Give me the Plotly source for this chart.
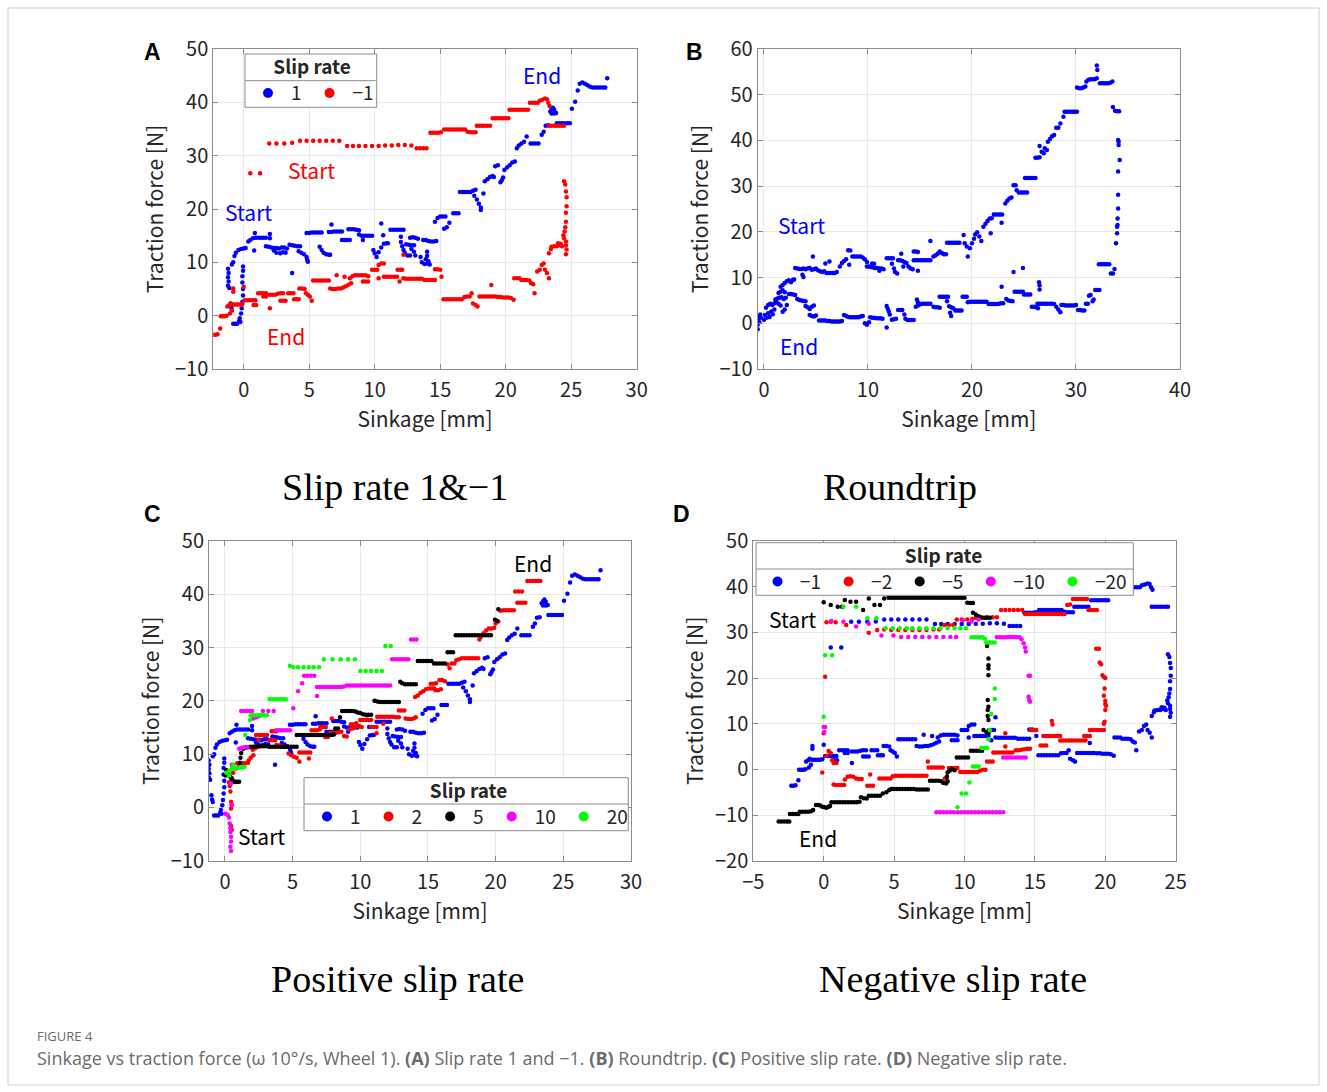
import plotly.graph_objects as go

W, H = 1327, 1092

# ---------------- data (sinkage [mm], traction force [N]) ----------------
slip_1 = [
    (-1.2, 8.8), (-1.15, 8.0), (-1.2, 7.2), (-1.15, 6.4), (-1.2, 5.6), (-1.1, 5.2),
    (-0.9, 9.6), (-0.8, 10.0), (-0.7, 11.2), (-0.6, 11.8), (-0.4, 12.3), (-0.2, 12.5), (0.0, 12.6), (0.15, 12.7),
    (-1.0, 2.3), (-0.95, 1.5), (-0.9, 1.0),
    (-0.8, -1.5), (-0.65, -1.5), (-0.5, -1.5), (-0.35, -1.0), (-0.3, -0.5),
    (-0.05, 9.2), (-0.05, 8.4), (-0.1, 7.4), (-0.1, 6.2), (-0.05, 5.0), (-0.05, 3.8), (-0.1, 2.6), (-0.15, 1.4), (-0.2, 0.4), (-0.25, -1.2),
    (0.35, 13.9), (0.5, 14.2), (0.7, 14.5), (0.9, 14.6), (1.1, 14.6), (1.3, 14.6), (1.5, 14.6), (1.7, 14.6), (0.85, 15.5), (0.8, 12.2),
    (2.0, 15.3), (2.0, 14.5),
    (1.7, 13.0), (1.9, 12.9), (2.1, 12.8), (2.3, 12.7), (2.5, 12.7), (2.7, 12.6),
    (2.3, 12.2), (2.5, 11.8), (2.8, 11.7), (3.0, 11.9), (3.2, 11.8),
    (2.9, 12.8), (3.1, 12.8), (3.3, 12.6),
    (3.5, 13.3), (3.7, 13.2), (3.9, 13.1), (4.1, 13.0), (4.3, 13.0),
    (3.7, 8.0),
    (4.2, 12.1), (4.4, 11.8), (4.6, 11.5), (4.8, 11.0), (4.85, 10.5), (4.9, 10.1),
    (4.8, 15.5), (5.0, 15.5), (5.2, 15.6), (5.4, 15.6), (5.6, 15.6), (5.8, 15.6), (5.95, 15.6),
    (5.8, 12.9), (5.95, 12.3), (6.1, 11.8), (6.3, 11.5), (6.5, 11.4), (6.6, 11.4),
    (6.7, 17.1),
    (6.5, 15.7), (6.7, 15.7), (6.9, 15.8), (7.1, 15.8), (7.3, 15.8), (7.5, 15.8),
    (7.5, 14.2), (7.7, 14.2), (7.9, 14.2), (8.1, 14.2),
    (8.0, 16.2), (8.2, 16.2), (8.4, 16.2), (8.6, 16.1), (8.8, 16.0),
    (8.8, 15.2), (9.0, 15.0), (9.2, 15.0), (9.4, 15.0), (9.6, 15.0), (9.8, 15.0),
    (9.1, 14.2),
    (9.9, 12.3), (10.0, 11.7),
    (10.15, 11.0), (10.3, 11.9), (10.5, 12.8), (10.7, 13.5), (10.9, 13.6), (11.0, 13.6),
    (10.5, 17.3), (10.65, 15.1),
    (11.2, 16.1), (11.4, 16.1), (11.6, 16.1), (11.8, 16.1), (12.0, 16.1), (12.2, 16.1),
    (12.0, 14.8), (12.0, 13.8), (12.1, 13.0), (12.2, 12.3), (12.3, 11.8), (12.5, 11.3), (12.7, 11.3),
    (12.4, 13.4), (12.6, 13.3), (12.8, 13.2), (13.0, 13.2),
    (12.7, 14.6), (12.9, 14.7), (13.1, 14.6), (13.3, 14.4),
    (12.8, 12.5), (13.0, 12.0), (13.1, 11.3),
    (13.5, 11.0), (13.6, 10.0), (13.8, 9.7), (14.0, 9.8), (14.1, 10.2), (14.2, 9.6),
    (13.7, 14.2), (13.9, 14.2), (14.1, 14.0), (14.3, 13.9), (14.5, 13.9), (14.7, 14.0),
    (14.0, 12.0), (14.0, 11.2), (13.9, 10.6),
    (14.6, 17.6), (14.8, 18.3), (15.0, 18.6), (15.2, 18.6), (15.4, 18.6),
    (15.3, 16.3), (15.5, 16.6), (15.7, 17.4),
    (16.0, 19.2), (16.2, 19.2), (16.4, 19.2),
    (16.5, 23.2), (16.7, 23.2), (16.9, 23.2), (17.1, 23.2), (17.3, 23.2), (17.5, 23.4), (17.7, 23.6),
    (17.6, 22.5), (17.8, 21.8), (17.95, 21.0), (18.1, 20.3), (18.1, 19.8), (18.3, 22.9),
    (18.4, 25.2), (18.6, 25.6), (18.8, 26.0), (19.0, 26.2), (19.1, 26.0),
    (19.2, 28.0), (19.4, 28.2),
    (19.6, 25.0), (19.7, 25.4), (19.8, 25.9),
    (19.9, 27.3), (20.1, 27.8), (20.3, 28.2), (20.5, 28.7), (20.7, 28.9),
    (20.85, 31.4), (21.0, 31.9), (21.2, 32.3), (21.4, 32.6), (21.6, 33.6),
    (21.9, 32.3), (22.1, 32.3), (22.3, 32.3), (22.5, 32.3),
    (22.75, 33.9), (22.9, 34.5), (23.05, 35.6), (23.25, 35.7), (23.4, 38.3), (23.5, 38.7), (23.6, 39.0),
    (23.7, 38.6), (23.85, 38.0), (23.5, 37.9), (23.7, 37.9),
    (23.9, 36.1), (24.1, 36.1), (24.3, 36.1), (24.5, 36.1), (24.7, 36.1), (24.9, 36.1),
    (25.05, 38.8), (25.3, 40.1), (25.5, 42.2), (25.65, 43.5), (25.85, 43.7), (26.05, 43.5), (26.25, 43.2),
    (26.45, 42.9), (26.65, 42.8), (26.85, 42.8), (27.05, 42.8), (27.25, 42.8), (27.45, 42.8), (27.6, 42.8), (27.75, 44.5),
]

slip_m1 = [
    (-2.3, -3.6), (-2.15, -3.6), (-2.0, -3.5), (-1.8, -2.4),
    (-1.75, -0.1), (-1.6, -0.1), (-1.45, -0.1), (-1.3, 0.0),
    (-1.25, 1.7), (-1.1, 2.0), (-1.0, 2.3), (-1.05, 0.4), (-0.9, 1.0),
    (-0.8, 5.1), (-0.8, 4.5),
    (-0.85, 2.1), (-0.7, 2.1), (-0.55, 2.1), (-0.4, 2.1), (-0.25, 2.1), (-0.1, 2.2),
    (0.0, 5.4),
    (0.1, 2.9), (0.3, 2.9), (0.5, 2.9), (0.7, 2.9), (0.9, 2.9),
    (0.75, 2.0), (0.95, 2.0),
    (1.1, 4.2), (1.3, 4.2), (1.5, 4.2), (1.7, 4.2),
    (1.5, 3.6), (1.7, 3.6),
    (2.0, 1.4),
    (2.0, 3.9), (2.2, 3.9), (2.4, 3.9), (2.6, 4.1), (2.8, 4.2), (3.0, 4.2),
    (2.8, 2.8), (3.0, 2.8), (3.2, 2.8),
    (3.4, 4.2), (3.6, 4.2), (3.8, 4.2),
    (3.85, 3.1), (4.05, 3.1), (4.2, 3.1),
    (4.25, 5.1), (4.45, 5.1), (4.65, 5.0),
    (4.75, 4.2), (4.9, 3.9), (5.05, 3.6), (5.2, 2.8),
    (5.3, 6.6), (5.5, 6.6), (5.7, 6.6), (5.9, 6.6), (6.1, 6.6), (6.3, 6.6), (6.5, 6.6),
    (6.6, 5.1), (6.8, 5.0), (7.0, 5.0),
    (7.1, 7.6),
    (7.2, 5.1), (7.4, 5.1), (7.6, 5.3), (7.8, 5.5), (8.0, 5.8), (8.2, 6.1),
    (7.7, 7.3),
    (8.1, 7.0), (8.3, 7.4), (8.5, 7.6), (8.7, 7.6), (8.9, 7.6), (9.1, 7.6), (9.3, 7.6), (9.5, 7.4),
    (9.1, 6.4), (9.3, 6.4), (9.5, 6.4),
    (9.8, 8.6), (10.0, 8.6), (10.2, 8.6),
    (10.3, 9.5), (10.5, 9.8), (10.7, 9.8),
    (10.3, 7.0),
    (10.7, 7.3), (10.9, 7.3), (11.1, 7.3), (11.3, 7.3), (11.5, 7.3), (11.7, 7.3),
    (11.75, 8.6), (11.95, 8.6), (12.1, 8.6),
    (11.9, 6.4),
    (12.2, 11.4),
    (12.2, 7.0), (12.4, 6.9), (12.6, 6.9), (12.8, 6.9), (13.0, 6.9), (13.2, 6.9), (13.4, 6.9), (13.6, 6.9),
    (13.8, 6.7), (14.0, 6.7), (14.2, 6.7), (14.4, 6.7), (14.6, 6.7),
    (14.6, 8.7), (14.8, 8.7), (15.0, 8.6), (15.1, 7.3),
    (15.25, 3.1), (15.45, 3.1), (15.65, 3.1), (15.85, 3.1), (16.05, 3.1), (16.25, 3.1), (16.45, 3.1), (16.65, 3.1),
    (16.85, 3.5), (17.05, 3.6), (17.25, 3.6), (17.4, 4.2),
    (17.5, 2.3), (17.7, 2.0), (17.85, 1.7),
    (18.0, 3.6), (18.2, 3.6), (18.4, 3.6), (18.6, 3.6), (18.8, 3.6), (19.0, 3.6), (19.2, 3.6),
    (18.9, 5.75),
    (19.4, 3.5), (19.6, 3.5), (19.8, 3.4), (20.0, 3.4), (20.2, 3.4), (20.4, 3.3), (20.6, 3.0),
    (20.65, 7.0), (20.85, 7.0), (21.05, 7.0),
    (21.2, 6.7), (21.4, 6.7), (21.6, 6.7), (21.8, 6.6),
    (21.95, 6.1), (22.1, 5.9),
    (22.2, 4.2),
    (22.4, 8.3), (22.6, 8.6), (22.75, 9.5), (22.9, 9.8),
    (23.0, 8.6), (23.15, 8.0), (23.3, 7.0),
    (23.3, 11.7), (23.45, 12.5), (23.5, 12.9), (23.7, 13.0), (23.9, 13.0), (24.1, 13.2), (24.3, 13.0),
    (24.0, 13.6), (24.2, 13.5),
    (24.4, 15.1), (24.45, 14.5),
    (24.45, 25.2), (24.55, 24.6), (24.6, 23.3), (24.65, 22.2), (24.65, 20.5), (24.6, 19.3), (24.6, 17.6),
    (24.55, 16.6), (24.5, 15.8), (24.6, 13.9), (24.6, 13.2), (24.65, 12.4), (24.6, 11.5),
    (0.5, 26.7), (1.25, 26.7),
    (1.95, 32.3), (2.5, 32.3), (3.1, 32.3), (3.7, 32.4),
    (4.3, 32.8), (4.8, 32.8), (5.3, 32.8), (5.8, 32.8), (6.3, 32.8), (6.8, 32.8), (7.3, 32.8),
    (7.9, 31.8), (8.35, 31.8), (8.8, 31.8), (9.3, 31.8), (9.8, 31.8), (10.3, 31.8), (10.8, 31.9),
    (11.3, 31.9), (11.8, 32.0), (12.3, 32.0), (12.8, 31.9),
    (13.2, 31.4), (13.45, 31.4), (13.7, 31.4), (13.95, 31.4),
    (14.25, 34.3), (14.45, 34.3), (14.65, 34.3), (14.85, 34.3), (15.05, 34.4),
    (15.3, 34.9), (15.5, 34.9), (15.7, 34.9), (15.9, 34.9), (16.1, 34.9), (16.3, 34.9), (16.5, 34.9), (16.7, 34.9), (16.9, 34.9),
    (17.1, 34.5), (17.3, 34.4), (17.5, 34.4), (17.7, 34.4),
    (17.8, 35.6), (18.0, 35.6), (18.2, 35.6), (18.4, 35.6), (18.6, 35.6), (18.8, 35.6),
    (19.0, 37.0), (19.2, 37.0), (19.4, 37.0), (19.6, 37.0), (19.8, 37.0), (20.0, 37.0), (20.2, 37.0),
    (20.3, 38.6), (20.5, 38.6), (20.7, 38.6), (20.9, 38.6), (21.1, 38.6), (21.3, 38.6), (21.5, 38.6), (21.7, 38.6),
    (21.85, 39.9), (22.05, 39.9), (22.25, 39.9), (22.45, 39.9),
    (22.6, 40.3), (22.8, 40.5), (23.0, 40.7), (23.15, 40.6), (23.25, 39.9), (23.35, 39.3),
    (23.3, 35.6), (23.5, 35.6), (23.7, 35.6), (23.9, 35.6), (24.1, 35.6), (24.3, 35.6), (24.45, 35.6),
]

roundtrip = [
    (-0.6, -1.3), (-0.6, -0.3), (-0.55, 0.6), (-0.5, 1.5), (-0.45, 0.2), (-0.35, 1.9), (-0.3, 1.2),
    (0.0, 0.8), (0.1, 1.8), (0.25, 1.2), (0.4, 2.2), (0.55, 1.4), (0.7, 2.6), (0.85, 2.0), (1.0, 3.0),
    (0.2, 3.4), (0.4, 4.0), (0.6, 4.3), (0.8, 4.0), (1.0, 4.4), (1.2, 4.6), (1.4, 4.3), (1.6, 3.9),
    (1.1, 5.2), (1.3, 5.4), (1.5, 5.6), (1.7, 5.7), (1.9, 5.3), (2.1, 5.6),
    (1.4, 6.6), (1.6, 6.9), (1.8, 7.2), (2.0, 6.8),
    (1.6, 8.0), (1.8, 8.4), (2.0, 8.8), (2.2, 9.2), (2.4, 9.4), (2.6, 9.0), (2.8, 9.5),
    (1.8, 2.5), (2.0, 3.0), (2.2, 4.0),
    (2.4, 6.4), (2.6, 6.4), (2.8, 6.3), (3.0, 6.2),
    (3.2, 5.3), (3.4, 5.1), (3.6, 5.0), (3.8, 4.9), (4.0, 4.8),
    (4.0, 3.8), (4.2, 3.5), (4.4, 3.1), (4.6, 3.6), (4.8, 3.9),
    (4.4, 1.8), (4.6, 1.6), (4.8, 1.5), (5.0, 1.7),
    (5.3, 0.6), (5.5, 0.6), (5.7, 0.6), (5.9, 0.6), (6.1, 0.5), (6.3, 0.5), (6.5, 0.4), (6.7, 0.4),
    (6.9, 0.4), (7.1, 0.4), (7.3, 0.4), (7.5, 0.5),
    (7.7, 1.8), (7.9, 1.6), (8.1, 1.4), (8.3, 1.3), (8.5, 1.3), (8.7, 1.3), (8.9, 1.3), (9.1, 1.3), (9.3, 1.5), (9.5, 1.6),
    (9.7, 0.0), (9.9, -0.3), (10.1, 0.2),
    (10.2, 1.3), (10.4, 1.2), (10.6, 1.2), (10.8, 1.1), (11.0, 1.1), (11.2, 1.1), (11.4, 1.0),
    (11.8, -0.9), (11.8, 3.8), (11.9, 3.2), (12.0, 2.6), (12.1, 1.9),
    (12.3, 0.8), (12.5, 0.9), (12.7, 1.0), (12.9, 2.9), (13.1, 2.9), (13.3, 2.9),
    (13.5, 1.9), (13.6, 1.0),
    (13.8, 0.7), (14.0, 0.7), (14.2, 0.7), (14.4, 0.7),
    (14.7, 5.2), (14.8, 4.6),
    (14.6, 3.6), (14.8, 3.9), (15.0, 4.1), (15.2, 4.3), (15.4, 4.3), (15.6, 4.3), (15.8, 4.3), (16.0, 4.3),
    (16.3, 3.6), (16.5, 3.5), (16.7, 3.5), (16.9, 3.4),
    (16.9, 5.8), (17.1, 5.8), (17.3, 5.8), (17.5, 5.8), (17.7, 5.8),
    (17.6, 4.8), (17.8, 3.7), (17.9, 2.3), (18.0, 1.6),
    (18.0, 3.5), (18.2, 3.3),
    (18.4, 2.8), (18.6, 2.8), (18.8, 2.8), (19.0, 2.8),
    (19.1, 5.8), (19.3, 5.8), (19.5, 5.8),
    (19.6, 4.6), (19.8, 4.7), (20.0, 4.7), (20.2, 4.7), (20.4, 4.7), (20.6, 4.7), (20.8, 4.7), (21.0, 4.7), (21.2, 4.7), (21.4, 4.7),
    (21.6, 4.2), (21.8, 4.2), (22.0, 4.2), (22.2, 4.2), (22.4, 4.2), (22.6, 4.3), (22.8, 4.4), (23.0, 4.4),
    (22.85, 8.0),
    (23.3, 5.3), (23.5, 5.0), (23.7, 4.9), (23.9, 4.8),
    (24.0, 11.2), (24.9, 12.1),
    (24.1, 6.9), (24.3, 6.9), (24.5, 6.9), (24.7, 6.9), (24.9, 6.9),
    (25.0, 6.3), (25.2, 6.3), (25.4, 6.3), (25.6, 6.3),
    (25.75, 3.6), (25.95, 3.6), (26.15, 3.5), (26.35, 3.3),
    (26.45, 9.0), (26.5, 8.3), (26.5, 7.4),
    (26.3, 4.3), (26.5, 4.3), (26.7, 4.3), (26.9, 4.3), (27.1, 4.3), (27.3, 4.3), (27.5, 4.3), (27.7, 4.3), (27.9, 4.2),
    (28.1, 3.6), (28.3, 3.0), (28.5, 2.4),
    (28.6, 4.0), (28.8, 4.0), (29.0, 3.9), (29.2, 3.9), (29.4, 3.9), (29.6, 3.9), (29.8, 3.9), (30.0, 4.0),
    (30.2, 2.9), (30.4, 2.9), (30.6, 2.8), (30.8, 2.8),
    (30.95, 4.3), (31.15, 4.3),
    (31.25, 6.0), (31.4, 6.2), (31.6, 4.8), (31.7, 5.2),
    (31.85, 7.3), (32.05, 7.3), (32.25, 7.3),
    (2.9, 9.6), (3.0, 12.1), (3.2, 12.0), (3.4, 11.9), (3.6, 11.9), (3.8, 12.0), (3.7, 10.6), (3.8, 10.1),
    (4.0, 11.8), (4.2, 12.0), (4.4, 12.1), (4.7, 14.6), (4.6, 11.7), (4.8, 11.8), (5.0, 12.0), (5.2, 11.6),
    (5.4, 11.4), (5.6, 11.2), (5.9, 13.1), (5.8, 11.4), (6.0, 11.0), (6.2, 11.0), (6.4, 11.0), (6.6, 11.0),
    (6.8, 11.0), (7.0, 11.2), (6.3, 13.5),
    (7.3, 12.4), (7.5, 13.2), (7.7, 13.6), (7.9, 14.0), (8.1, 16.0), (8.3, 15.9), (8.2, 12.8),
    (8.5, 14.6), (8.7, 14.6), (8.9, 14.6), (9.1, 14.6), (9.3, 14.6), (9.5, 14.4), (9.7, 14.0), (9.9, 13.4),
    (9.9, 12.4), (10.1, 12.4), (10.3, 12.3), (10.5, 12.2), (10.7, 12.1), (10.9, 12.1), (11.1, 12.0), (11.3, 12.0), (11.5, 11.8),
    (10.4, 13.1), (10.6, 13.0), (11.1, 11.5),
    (11.8, 14.2), (12.0, 14.2), (12.2, 14.2), (12.4, 14.2),
    (12.3, 13.0), (12.5, 12.0), (12.6, 11.2), (12.8, 10.9),
    (12.9, 13.8), (13.1, 13.8), (13.3, 13.6), (13.5, 13.4), (13.7, 13.2), (13.9, 12.4), (14.1, 12.0), (14.3, 11.8),
    (13.4, 12.4), (13.2, 15.2),
    (14.4, 15.7), (14.6, 15.7), (14.8, 15.6), (14.8, 11.5),
    (14.4, 13.8), (14.6, 13.8), (14.8, 13.8), (15.0, 13.8), (15.2, 13.8), (15.4, 13.8), (15.6, 13.8), (15.8, 13.8), (16.0, 13.8),
    (16.0, 18.0),
    (16.3, 14.6), (16.5, 14.9), (16.7, 15.2), (16.9, 15.7), (17.1, 15.4), (17.3, 15.1), (17.5, 15.1),
    (17.6, 17.6), (17.8, 17.6), (18.0, 17.6), (18.2, 17.6), (18.4, 17.6), (18.6, 17.6), (18.8, 17.6),
    (19.2, 19.3), (19.3, 17.5), (19.5, 16.8), (19.6, 14.6), (19.8, 16.4),
    (20.0, 17.5), (20.2, 18.5), (20.3, 19.4), (20.5, 19.9), (20.7, 19.0), (20.9, 18.0),
    (21.1, 21.1), (21.3, 21.8), (21.5, 22.4), (21.7, 22.9), (21.9, 23.0),
    (21.8, 19.7),
    (22.1, 23.8), (22.3, 23.8), (22.5, 23.8), (22.7, 23.8), (22.9, 23.8),
    (22.85, 22.0),
    (23.2, 26.2), (23.4, 26.8), (23.6, 27.3), (23.8, 27.5),
    (24.0, 30.2), (24.2, 30.2), (24.3, 29.1),
    (24.5, 28.6), (24.7, 28.6), (24.9, 28.6), (25.1, 28.6), (25.3, 28.6),
    (25.1, 31.8), (25.3, 31.8), (25.5, 31.8), (25.7, 31.8), (25.9, 31.8), (26.1, 31.8),
    (26.1, 36.2), (26.3, 36.2), (26.5, 36.3), (26.5, 38.8),
    (26.7, 37.5), (26.9, 37.2), (27.0, 38.3), (27.2, 37.9),
    (27.3, 39.7), (27.5, 40.3), (27.7, 40.9), (27.9, 41.2),
    (28.1, 42.8), (28.3, 42.8), (28.5, 43.7), (28.8, 45.2),
    (28.9, 46.3), (29.1, 46.3), (29.3, 46.3), (29.5, 46.3), (29.7, 46.3), (29.9, 46.3), (30.1, 46.3),
    (30.1, 51.6), (30.3, 51.4), (30.5, 51.4), (30.7, 51.6), (30.9, 51.8),
    (31.0, 52.9), (31.2, 53.3), (31.4, 53.4), (31.6, 53.4), (31.8, 53.4), (32.0, 53.6),
    (32.0, 56.4), (32.05, 55.4),
    (32.3, 52.5), (32.5, 52.5), (32.7, 52.5), (32.9, 52.5), (33.1, 52.5), (33.3, 52.6), (33.5, 52.9),
    (33.55, 47.3), (33.75, 46.5), (33.95, 46.4), (34.15, 46.4),
    (34.05, 40.1), (34.1, 39.7), (34.1, 39.0), (34.2, 35.7), (34.05, 33.2), (34.05, 28.1), (34.05, 25.1),
    (34.0, 22.9), (34.0, 21.5), (33.95, 21.1), (33.95, 19.7), (33.85, 17.5),
    (32.2, 12.9), (32.4, 12.9), (32.6, 12.9), (32.8, 12.9), (33.0, 12.9), (33.2, 12.9),
    (33.35, 10.9), (33.55, 10.9), (33.7, 11.9),
]

slip_2 = [
    (0.3, 4.7), (0.35, 4.0), (0.4, 3.0), (0.45, 1.0), (0.5, 0.4), (0.45, -0.2), (0.45, -3.5), (0.5, -4.2),
    (0.5, 5.5), (0.6, 6.5), (0.8, 7.3), (1.0, 7.6),
    (0.9, 8.3), (1.1, 8.3), (1.3, 8.3), (1.5, 8.3), (1.7, 8.4),
    (1.75, 8.8), (1.9, 9.3), (2.1, 9.8),
    (2.05, 10.8), (2.25, 11.1), (2.45, 11.4), (2.5, 12.6),
    (2.3, 13.6), (2.5, 13.6), (2.7, 13.6), (2.9, 13.6), (3.1, 13.6),
    (3.3, 12.6), (3.5, 12.6), (3.7, 12.6),
    (3.45, 14.3), (3.65, 14.3), (3.8, 14.3),
    (3.8, 11.7), (4.0, 11.6), (4.2, 11.5), (4.4, 11.4), (4.6, 11.4),
    (4.7, 10.1), (4.9, 9.8), (5.1, 9.5), (5.3, 9.3), (5.5, 8.6),
    (5.5, 10.3), (5.7, 10.3), (5.9, 10.3), (6.1, 10.3), (6.3, 10.3), (6.2, 9.2),
    (6.4, 14.5), (6.6, 14.5), (6.8, 14.5), (7.0, 14.6),
    (7.05, 15.1), (7.25, 15.1), (7.45, 15.1),
    (7.4, 13.2), (7.6, 13.2),
    (7.8, 14.0), (8.0, 14.0), (8.2, 14.0), (8.4, 14.1), (8.6, 14.2),
    (7.9, 16.7),
    (8.8, 13.4), (9.0, 13.3), (9.2, 14.6), (9.4, 14.8), (9.6, 15.0),
    (9.3, 15.6), (9.5, 15.6), (9.7, 15.8), (9.9, 15.3), (10.1, 15.1),
    (10.0, 16.4), (10.2, 16.4), (10.4, 16.4), (10.6, 16.4), (10.8, 16.4),
    (10.8, 15.1), (11.0, 15.1), (11.2, 15.1), (11.2, 13.9),
    (11.25, 17.0), (11.45, 17.0), (11.65, 17.0), (11.85, 17.0), (12.05, 17.0), (12.25, 17.0), (12.45, 17.0), (12.65, 16.9), (12.85, 16.9),
    (11.7, 15.7),
    (12.85, 18.2), (13.05, 18.2), (13.25, 18.2),
    (13.35, 16.7), (13.55, 16.6), (13.75, 16.6), (13.95, 16.7), (14.1, 16.9),
    (14.05, 20.7), (14.25, 21.0), (14.45, 21.5), (14.65, 21.8), (14.85, 22.2), (15.05, 22.3), (15.25, 22.3), (15.45, 22.3),
    (15.55, 22.0), (15.75, 22.0), (15.95, 22.2),
    (15.2, 23.2), (15.4, 23.2), (15.6, 23.3),
    (15.85, 23.9), (16.05, 23.9), (16.25, 23.7),
    (16.45, 26.8), (16.6, 26.1), (16.75, 27.0), (16.95, 27.0),
    (17.1, 27.6), (17.3, 27.8), (17.5, 28.0), (17.7, 28.0), (17.9, 28.0), (18.1, 28.0), (18.3, 28.0), (18.5, 28.0), (18.7, 28.0),
    (18.8, 31.5), (18.9, 32.0), (19.1, 32.7), (19.3, 33.2), (19.5, 33.6), (19.7, 33.6), (19.9, 33.7),
    (20.0, 34.5), (20.2, 34.9),
    (20.35, 36.9), (20.55, 37.0), (20.75, 37.0), (20.95, 37.0), (21.15, 37.0), (21.35, 37.0),
    (21.45, 40.5), (21.7, 40.5), (21.95, 40.5),
    (21.6, 38.4), (21.8, 38.4), (22.0, 38.4), (22.2, 38.4),
    (22.35, 42.5), (22.55, 42.5), (22.75, 42.5), (22.95, 42.5), (23.15, 42.5), (23.3, 42.5),
]

slip_5 = [
    (0.05, 6.0), (0.1, 7.0), (0.2, 6.6), (0.3, 6.1), (0.4, 5.7), (0.5, 5.3), (0.6, 5.0),
    (0.6, 4.8), (0.75, 4.8), (0.9, 4.8), (1.05, 4.8),
    (1.1, 8.4), (1.15, 9.3), (1.2, 10.2),
    (1.35, 11.0), (1.5, 11.2), (1.7, 11.3), (1.9, 11.4), (2.1, 11.4), (2.3, 11.5), (2.5, 11.5), (2.7, 11.5),
    (2.9, 11.5), (3.1, 11.5), (3.3, 11.4), (3.5, 11.4), (3.7, 11.4), (3.9, 11.4), (4.1, 11.4), (4.3, 11.4),
    (4.5, 11.4), (4.7, 11.4), (4.9, 11.4), (5.1, 11.4), (5.3, 11.4),
    (5.3, 13.6), (5.5, 13.6), (5.7, 13.6), (5.9, 13.6), (6.1, 13.6), (6.3, 13.6), (6.5, 13.6), (6.7, 13.6),
    (6.9, 13.6), (7.1, 13.6), (7.3, 13.6), (7.5, 13.6), (7.7, 13.6), (7.9, 13.6), (8.05, 13.7),
    (8.15, 14.8), (8.35, 14.8), (8.5, 16.9),
    (8.65, 18.1), (8.85, 18.1), (9.05, 18.1), (9.25, 18.1), (9.45, 18.1), (9.65, 18.0),
    (9.8, 17.8), (10.0, 17.7), (10.2, 17.5), (10.4, 17.4), (10.6, 17.4), (10.8, 17.4),
    (11.05, 20.0), (11.25, 19.9), (11.45, 19.8), (11.65, 19.8), (11.85, 19.8), (12.05, 19.8), (12.25, 19.8),
    (12.45, 19.8), (12.65, 19.8), (12.85, 19.8),
    (12.95, 23.6), (13.1, 23.3), (13.3, 23.1), (13.5, 23.1), (13.7, 23.1), (13.9, 23.1), (14.1, 23.1),
    (14.25, 27.5), (14.45, 27.5), (14.65, 27.5), (14.85, 27.5), (15.05, 27.5), (15.25, 27.5),
    (15.45, 27.0), (15.65, 27.0), (15.85, 27.0), (16.05, 27.0), (16.25, 27.0),
    (16.45, 29.1), (16.65, 29.1), (16.85, 29.1),
    (17.05, 32.3), (17.25, 32.3), (17.45, 32.3), (17.65, 32.3), (17.85, 32.3), (18.05, 32.3), (18.25, 32.3),
    (18.45, 32.3), (18.65, 32.3), (18.85, 32.3), (19.05, 32.3), (19.25, 32.3), (19.45, 32.3), (19.65, 32.3),
    (19.95, 35.2), (20.1, 35.0), (20.2, 37.2),
]

slip_10 = [
    (0.05, -1.2), (0.2, -1.4), (0.3, -1.9), (0.35, -3.0), (0.4, -3.9), (0.4, -4.6), (0.45, -5.5),
    (0.45, -6.4), (0.4, -7.4), (0.45, -8.2),
    (0.5, 0.5), (0.45, 4.5), (0.5, 8.0),
    (1.05, 11.0), (1.25, 11.2), (1.45, 11.3), (1.65, 11.3),
    (1.2, 18.1), (1.4, 18.1), (1.6, 18.1), (1.8, 18.1), (2.0, 18.1),
    (2.1, 16.7), (2.3, 16.9), (2.5, 17.1),
    (2.8, 18.1), (3.2, 18.1), (3.6, 18.1),
    (3.8, 14.5), (4.0, 14.5), (4.2, 14.5), (4.4, 14.5), (4.6, 14.5), (4.8, 14.5),
    (5.05, 18.6), (5.4, 21.8), (5.7, 23.3),
    (5.85, 24.7), (6.1, 24.7), (6.35, 24.7), (6.6, 24.7), (6.8, 20.9),
    (6.8, 22.6), (7.0, 22.6), (7.2, 22.6), (7.4, 22.6), (7.6, 22.6), (7.8, 22.6), (8.0, 22.6), (8.2, 22.6),
    (8.4, 22.6), (8.6, 22.6), (8.8, 22.7),
    (9.0, 22.9), (9.2, 22.9), (9.4, 22.9), (9.6, 22.9), (9.8, 22.9), (10.0, 22.9), (10.2, 22.9), (10.4, 22.9),
    (10.6, 22.9), (10.8, 22.9), (11.0, 22.9), (11.2, 22.9), (11.4, 22.9), (11.6, 22.9), (11.8, 22.9), (12.0, 22.9), (12.2, 22.9),
    (12.35, 27.8), (12.55, 27.8), (12.75, 27.8), (12.95, 27.8), (13.15, 27.8), (13.35, 27.8), (13.55, 27.8),
    (13.75, 31.5), (13.95, 31.5), (14.15, 31.5),
]

slip_20 = [
    (0.1, 6.5), (0.3, 6.9), (0.3, 6.0), (0.5, 7.2), (0.7, 7.4), (0.9, 7.4), (1.1, 7.5), (1.3, 7.5), (1.45, 7.6), (0.6, 8.0),
    (1.5, 13.6), (1.85, 16.4),
    (1.9, 17.3), (2.1, 17.3), (2.3, 17.3), (2.5, 17.3), (2.7, 17.3), (2.9, 17.3), (3.1, 17.3),
    (3.3, 20.3), (3.5, 20.3), (3.7, 20.3), (3.9, 20.3), (4.1, 20.3), (4.3, 20.3), (4.5, 20.3),
    (4.8, 26.6),
    (5.05, 26.3), (5.4, 26.3), (5.8, 26.3), (6.2, 26.3), (6.55, 26.3), (6.95, 26.3),
    (7.3, 27.8), (7.95, 27.8), (8.55, 27.8), (9.1, 27.8), (9.6, 27.8),
    (10.0, 25.6), (10.4, 25.6), (10.8, 25.6), (11.2, 25.6), (11.6, 25.6),
    (11.85, 30.3), (12.25, 30.3),
]

slip_m2 = [
    (0.2, 32.2), (0.5, 32.3), (0.85, 32.2), (1.6, 31.6), (3.2, 29.9),
    (3.8, 30.5), (4.3, 30.6), (4.8, 30.5), (5.3, 30.5), (5.8, 30.5), (6.3, 30.5), (6.8, 30.5), (7.3, 30.5), (7.8, 30.6), (8.2, 30.6),
    (8.55, 31.6), (8.9, 31.6), (9.2, 31.6),
    (9.45, 32.8), (9.8, 32.8), (10.2, 32.8), (10.55, 32.9),
    (10.8, 33.2), (11.2, 33.3), (11.6, 33.3), (12.0, 33.3), (12.3, 33.3),
    (12.6, 34.9), (12.9, 34.9), (13.2, 34.9), (13.5, 34.9), (13.8, 34.9), (14.1, 34.9),
    (14.3, 34.0), (14.5, 34.0), (14.7, 34.0), (14.9, 34.0), (15.1, 34.0), (15.3, 34.0), (15.5, 34.0), (15.7, 34.0),
    (15.9, 34.0), (16.1, 34.0), (16.3, 34.0), (16.5, 34.0), (16.7, 34.0), (16.9, 34.0), (17.1, 34.0),
    (17.3, 36.0), (17.5, 36.1),
    (17.7, 37.3), (17.9, 37.3), (18.1, 37.3), (18.3, 37.3), (18.5, 37.3), (18.7, 37.3),
    (18.8, 34.9), (19.0, 34.9), (19.2, 34.9), (19.4, 34.9),
    (19.35, 26.4), (19.55, 26.4), (19.6, 23.4), (19.7, 23.0), (19.8, 20.6), (19.9, 20.2), (20.0, 20.0),
    (19.95, 17.7), (19.9, 16.1), (20.0, 15.0), (20.0, 14.3), (20.05, 13.9), (20.0, 13.0), (19.95, 10.4), (19.9, 10.0),
    (19.9, 8.6), (19.7, 8.6), (19.5, 8.6), (19.3, 8.6), (19.1, 8.6), (18.9, 8.6),
    (18.9, 7.3), (18.7, 7.3), (18.5, 7.3),
    (18.6, 6.3), (18.4, 6.3), (18.2, 6.3), (18.0, 6.3), (17.8, 6.3), (17.6, 6.3), (17.4, 6.3), (17.2, 6.3), (17.0, 6.3), (16.8, 6.3),
    (16.8, 7.3), (16.6, 7.3), (16.4, 7.3), (16.2, 7.3), (16.0, 7.3), (15.8, 7.3), (15.6, 7.3),
    (16.2, 10.6), (16.25, 9.8),
    (15.8, 5.2), (15.6, 5.2), (15.4, 5.2),
    (15.1, 8.6), (14.9, 8.6), (14.7, 8.6),
    (14.65, 4.5), (14.45, 4.5), (14.25, 4.4), (14.05, 4.3), (13.85, 4.2), (13.65, 4.2),
    (13.4, 3.7), (13.2, 3.7), (13.0, 3.7), (12.8, 3.7), (12.6, 3.7), (12.4, 3.7), (12.2, 3.7), (12.05, 3.7),
    (12.9, 7.9), (12.9, 5.0),
    (12.0, 1.7), (11.8, 1.7), (11.6, 1.7),
    (11.5, -0.1), (11.3, -0.1), (11.1, -0.3),
    (10.9, -0.6), (10.7, -0.6), (10.5, -0.6), (10.3, -0.6), (10.1, -0.6), (9.9, -0.6), (9.7, -0.6),
    (9.5, 0.3), (9.3, 0.3), (9.1, 0.3), (8.9, 0.3), (8.75, -1.6), (8.6, -2.0),
    (8.45, 0.4), (8.25, 0.4), (8.05, 0.4), (7.85, 0.4), (7.65, 0.4), (7.45, 0.4),
    (7.4, 1.7),
    (7.3, -1.4), (7.1, -1.4), (6.9, -1.4), (6.7, -1.4), (6.5, -1.4), (6.3, -1.4), (6.1, -1.4), (5.9, -1.4),
    (5.7, -1.4), (5.5, -1.4), (5.3, -1.4), (5.1, -1.4), (4.9, -1.5),
    (4.75, -2.0), (4.55, -2.0), (4.35, -2.0), (4.15, -2.0), (3.95, -2.0),
    (3.5, -3.6), (3.3, -3.6), (3.1, -3.6),
    (3.3, -1.1),
    (2.7, -2.1), (2.5, -2.1), (2.3, -2.0), (2.1, -1.6), (1.9, -1.5), (1.7, -1.6), (1.5, -2.2),
    (1.45, -3.4), (1.25, -3.4), (1.05, -3.4), (0.85, -3.4), (0.7, -3.3),
    (0.9, 1.4), (0.7, 1.4), (0.6, 2.0), (0.5, 3.5), (0.35, 4.0), (0.2, 3.0),
    (0.1, 20.3), (0.0, 7.9), (-0.1, -0.7),
]

slip_m5 = [
    (-3.2, -11.4), (-3.0, -11.4), (-2.8, -11.4), (-2.6, -11.4), (-2.45, -11.4),
    (-2.4, -9.8), (-2.2, -9.8), (-2.0, -9.8), (-1.8, -9.8),
    (-1.7, -9.3), (-1.5, -9.3), (-1.3, -9.3), (-1.1, -9.3), (-0.9, -9.2), (-0.75, -8.9),
    (-0.55, -7.8), (-0.4, -7.8), (-0.25, -7.9), (-0.1, -8.2), (0.05, -8.3), (0.2, -8.4), (0.35, -8.2), (0.45, -8.0),
    (0.55, -7.2), (0.75, -7.2), (0.95, -7.2), (1.15, -7.2), (1.35, -7.2), (1.55, -7.2), (1.75, -7.2), (1.95, -7.2),
    (2.15, -7.2), (2.35, -7.2), (2.55, -7.1),
    (2.65, -6.1), (2.85, -6.3), (3.05, -6.4),
    (3.2, -5.8), (3.4, -5.8), (3.6, -5.8), (3.8, -5.8), (4.0, -5.8),
    (4.2, -5.3), (4.45, -5.0), (4.65, -4.5),
    (4.8, -4.3), (5.0, -4.3), (5.2, -4.3), (5.4, -4.3), (5.6, -4.3), (5.8, -4.3), (6.0, -4.3), (6.2, -4.3),
    (6.4, -4.3), (6.6, -4.4), (6.8, -4.4), (7.0, -4.4), (7.2, -4.4), (7.4, -4.4),
    (7.55, -2.5), (7.75, -2.5), (7.95, -2.5), (8.15, -2.5), (8.35, -2.6),
    (8.5, -3.0), (8.7, -3.1), (8.8, -2.6), (8.75, -1.6), (8.8, -0.7), (8.95, -0.3), (9.1, 0.1), (9.3, -0.2),
    (9.45, 2.6), (9.65, 2.6), (9.85, 2.6), (10.05, 2.6), (10.25, 2.6),
    (10.45, 4.1), (10.65, 4.1), (10.85, 4.1), (11.05, 4.1), (11.25, 4.1),
    (11.35, 8.6), (11.55, 8.2), (11.7, 7.9),
    (11.7, 10.8), (11.65, 11.7), (11.65, 13.0), (11.7, 13.7), (11.65, 15.2), (11.7, 20.6), (11.7, 22.1),
    (11.7, 22.8), (11.7, 24.3), (11.6, 27.0),
    (11.8, 33.2), (11.6, 33.2), (11.4, 33.2), (11.2, 33.2), (11.0, 33.5), (10.8, 33.9), (10.6, 34.3),
    (10.6, 36.4), (10.4, 36.4), (10.2, 36.5),
    (10.0, 37.6), (9.8, 37.6), (9.6, 37.6), (9.4, 37.6), (9.2, 37.6), (9.0, 37.6), (8.8, 37.6), (8.6, 37.6),
    (8.4, 37.6), (8.2, 37.6), (8.0, 37.6), (7.8, 37.6), (7.6, 37.6), (7.4, 37.6), (7.2, 37.6), (7.0, 37.6),
    (6.8, 37.6), (6.6, 37.6), (6.4, 37.6), (6.2, 37.6), (6.0, 37.6), (5.8, 37.6), (5.6, 37.6), (5.4, 37.6),
    (5.2, 37.6), (5.0, 37.6), (4.8, 37.6), (4.6, 37.6),
    (4.3, 37.4), (4.0, 36.0), (3.6, 36.0), (3.2, 37.4), (2.8, 34.9), (2.3, 36.7), (1.9, 36.7),
    (1.5, 37.1), (1.3, 35.6), (1.0, 35.6), (0.5, 36.0), (0.0, 36.6),
]

slip_m10 = [
    (0.0, 9.3), (0.1, 9.3), (0.05, 8.2),
    (0.55, 32.5), (1.4, 32.3), (2.3, 31.3), (3.2, 31.9),
    (4.1, 29.3), (4.95, 29.3), (5.5, 29.0), (6.0, 29.0), (6.5, 29.0), (7.0, 29.0), (7.5, 29.0), (8.0, 29.0),
    (8.5, 29.0), (9.0, 29.0), (9.4, 29.0),
    (9.9, 32.7), (10.5, 32.4), (11.0, 32.8),
    (12.3, 28.9), (12.5, 28.9), (12.7, 28.9), (12.9, 28.9), (13.1, 29.0), (13.3, 29.0), (13.5, 29.0), (13.7, 29.0),
    (13.9, 28.9), (14.05, 28.5),
    (14.2, 27.6), (14.3, 26.7), (14.35, 25.8), (14.55, 20.5), (14.65, 20.5), (14.55, 15.9), (14.6, 15.2), (14.65, 14.8),
    (12.75, 2.6), (12.95, 2.6), (13.15, 2.6), (13.35, 2.6), (13.55, 2.6), (13.75, 2.6), (13.95, 2.6), (14.15, 2.6), (14.35, 2.6),
    (8.0, -9.4), (8.25, -9.4), (8.5, -9.4), (8.75, -9.4), (9.0, -9.4), (9.25, -9.4), (9.5, -9.4), (9.75, -9.4),
    (10.0, -9.4), (10.25, -9.4), (10.5, -9.4), (10.75, -9.4), (11.0, -9.4), (11.25, -9.4), (11.5, -9.4),
    (11.75, -9.4), (12.0, -9.4), (12.25, -9.4), (12.5, -9.4), (12.75, -9.4),
]

slip_m20 = [
    (0.0, 11.5), (0.1, 25.0), (0.6, 25.0),
    (1.4, 35.6), (2.3, 35.6), (3.1, 33.1), (3.75, 33.1),
    (4.4, 30.9), (4.9, 30.9), (5.4, 30.9), (5.9, 30.9), (6.3, 30.9), (6.8, 30.9), (7.3, 30.9), (7.8, 30.9),
    (8.3, 30.9), (8.8, 30.9), (9.3, 30.9), (9.7, 30.9), (10.1, 30.9),
    (10.5, 28.9), (10.7, 28.9), (10.9, 28.9), (11.1, 28.9), (11.3, 28.9), (11.45, 28.6),
    (11.55, 27.8), (11.75, 27.8), (11.95, 27.8), (12.15, 27.8),
    (12.15, 17.7), (12.15, 15.4), (11.9, 12.1), (11.8, 8.6), (11.7, 6.6),
    (11.6, 4.7), (11.4, 4.7), (11.2, 4.7),
    (11.0, 0.6), (10.8, 0.6), (10.6, 0.6),
    (10.35, -2.9), (10.1, -5.3), (9.8, -5.3), (9.5, -8.3),
]

panel_titles = ["Slip rate 1&\u22121", "Roundtrip", "Positive slip rate", "Negative slip rate"]
panel_letters = ["A", "B", "C", "D"]
legend_a = ["1", "\u22121"]
legend_c = ["1", "2", "5", "10", "20"]
legend_d = ["\u22121", "\u22122", "\u22125", "\u221210", "\u221220"]

# ---------------- styling ----------------
BLUE, RED, BLACK, MAGENTA, GREEN = "#0000ff", "#ff0000", "#000000", "#ff00ff", "#00ff00"
FONT = "Noto Sans CJK JP"
TXT = "#262626"
AX = "#8c8c8c"
MS = 4.5


def xs(p):
    return [q[0] for q in p]


def ys(p):
    return [q[1] for q in p]


def fx(p):
    return p / W


def fy(p):
    return 1 - p / H


fig = go.Figure()


def add_series(pts, color, name, ax, legend):
    xa, ya = ("x", "y") if ax == 1 else ("x%d" % ax, "y%d" % ax)
    fig.add_trace(go.Scatter(x=xs(pts), y=ys(pts), mode="markers",
                             marker=dict(color=color, size=MS),
                             xaxis=xa, yaxis=ya, showlegend=False, hoverinfo="skip"))
    if legend:
        fig.add_trace(go.Scatter(x=[None], y=[None], mode="markers", name=name,
                                 marker=dict(color=color, size=10),
                                 xaxis=xa, yaxis=ya, legend=legend, showlegend=True))


add_series(slip_1, BLUE, legend_a[0], 1, "legend")
add_series(slip_m1, RED, legend_a[1], 1, "legend")
add_series(roundtrip, BLUE, "", 2, None)
add_series(slip_1, BLUE, legend_c[0], 3, "legend2")
add_series(slip_2, RED, legend_c[1], 3, "legend2")
add_series(slip_5, BLACK, legend_c[2], 3, "legend2")
add_series(slip_10, MAGENTA, legend_c[3], 3, "legend2")
add_series(slip_20, GREEN, legend_c[4], 3, "legend2")
add_series(slip_m1, BLUE, legend_d[0], 4, "legend3")
add_series(slip_m2, RED, legend_d[1], 4, "legend3")
add_series(slip_m5, BLACK, legend_d[2], 4, "legend3")
add_series(slip_m10, MAGENTA, legend_d[3], 4, "legend3")
add_series(slip_m20, GREEN, legend_d[4], 4, "legend3")


def axis(domain, rng, dtick, title, anchor, standoff, is_x):
    d = dict(domain=domain, range=rng, dtick=dtick, tick0=0, anchor=anchor,
             showline=True, linecolor=AX, linewidth=1, mirror="ticks",
             ticks="inside", ticklen=5, tickcolor=AX, tickwidth=1,
             showgrid=True, gridcolor="#e8e8e8", gridwidth=1, zeroline=False,
             tickfont=dict(family=FONT, size=20, color=TXT),
             title=dict(text=title, font=dict(family=FONT, size=21, color=TXT), standoff=standoff),
             automargin=False)
    if is_x:
        d["ticklabelstandoff"] = 3
    return d


XT, YT = "Sinkage [mm]", "Traction force [N]"
dA_x, dB_x, dC_x, dD_x = [fx(213.3), fx(636.7)], [fx(757.7), fx(1180)], [fx(209), fx(631)], [fx(753.3), fx(1175.7)]
top_y, bot_y = [fy(369), fy(49)], [fy(860.7), fy(541)]

legend_common = dict(orientation="h", xanchor="left", yanchor="top", bgcolor="rgba(0,0,0,0)",
                     borderwidth=0, itemwidth=36,
                     font=dict(family=FONT, size=19, color=TXT),
                     title=dict(text="<b>Slip rate</b>", side="top center",
                                font=dict(family=FONT, size=19, color=TXT)),
                     traceorder="normal")

annotations = []


def note(text, x, y, color, ax, size=21):
    xr, yr = ("x", "y") if ax == 1 else ("x%d" % ax, "y%d" % ax)
    annotations.append(dict(text=text, x=x, y=y, xref=xr, yref=yr, showarrow=False,
                            xanchor="center", yanchor="middle",
                            font=dict(family=FONT, size=size, color=color)))


note("End", 22.8, 45.1, BLUE, 1)
note("Start", 5.14, 27.3, RED, 1)
note("Start", 0.4, 19.4, BLUE, 1)
note("End", 3.23, -3.8, RED, 1)
note("Start", 3.65, 21.5, BLUE, 2)
note("End", 3.37, -5.0, BLUE, 2)
note("End", 22.76, 45.9, BLACK, 3)
note("Start", 2.73, -5.4, BLACK, 3)
note("Start", -2.25, 32.9, BLACK, 4)
note("End", -0.4, -15.0, BLACK, 4)

for t, (px, py) in zip(panel_titles, [(395, 487), (900, 487), (397, 979), (953, 979)]):
    annotations.append(dict(text=t, x=fx(px), y=fy(py), xref="paper", yref="paper", showarrow=False,
                            xanchor="center", yanchor="middle",
                            font=dict(family="Liberation Serif", size=38, color="black")))
for t, (px, py) in zip(panel_letters, [(152, 52), (694, 52), (152, 514), (682, 514)]):
    annotations.append(dict(text="<b>%s</b>" % t, x=fx(px), y=fy(py), xref="paper", yref="paper",
                            xanchor="center", yanchor="middle",
                            showarrow=False, font=dict(family="Liberation Sans", size=23, color="black")))

annotations.append(dict(text="FIGURE 4", x=fx(35), y=fy(1036), xref="paper", yref="paper",
                        xanchor="left", yanchor="middle", showarrow=False,
                        font=dict(family="Open Sans", size=13, color="#6b6b6b")))
annotations.append(dict(text="Sinkage vs traction force (\u03c9 10\u00b0/s, Wheel 1). <b>(A)</b> Slip rate 1 and \u22121. "
                             "<b>(B)</b> Roundtrip. <b>(C)</b> Positive slip rate. <b>(D)</b> Negative slip rate.",
                        x=fx(35), y=fy(1058), xref="paper", yref="paper", xanchor="left", yanchor="middle",
                        showarrow=False,
                        font=dict(family="Open Sans", size=18, color="#6b6b6b")))


def legend_box(x0, y0, x1, y1, ysep):
    return [
        dict(type="rect", xref="paper", yref="paper", x0=fx(x0), x1=fx(x1), y0=fy(y1), y1=fy(y0),
             line=dict(color=AX, width=1), fillcolor="white", layer="above"),
        dict(type="line", xref="paper", yref="paper", x0=fx(x0), x1=fx(x1), y0=fy(ysep), y1=fy(ysep),
             line=dict(color=AX, width=1), layer="above"),
    ]


shapes = [
    dict(type="rect", xref="paper", yref="paper", x0=fx(8), x1=fx(1319), y0=fy(1085), y1=fy(8),
         line=dict(color="#cfcfcf", width=1), fillcolor="rgba(0,0,0,0)", layer="below"),
]
shapes += legend_box(245, 54, 376.7, 107.3, 80.7)
shapes += legend_box(304, 777.7, 628.3, 830.7, 804)
shapes += legend_box(756, 542.7, 1133.3, 595.3, 569)

fig.update_layout(
    width=W, height=H, margin=dict(l=0, r=0, t=0, b=0),
    paper_bgcolor="white", plot_bgcolor="white",
    xaxis=axis(dA_x, [-2.32, 30], 5, XT, "y", 5, True),
    yaxis=axis(top_y, [-10, 50], 10, YT, "x", 5, False),
    xaxis2=axis(dB_x, [-0.6, 40], 10, XT, "y2", 5, True),
    yaxis2=axis(top_y, [-10, 60], 10, YT, "x2", 5, False),
    xaxis3=axis(dC_x, [-1.18, 30], 5, XT, "y3", 5, True),
    yaxis3=axis(bot_y, [-10, 50], 10, YT, "x3", 5, False),
    xaxis4=axis(dD_x, [-5, 25], 5, XT, "y4", 5, True),
    yaxis4=axis(bot_y, [-20, 50], 10, YT, "x4", 5, False),
    legend=dict(legend_common, x=fx(245), y=fy(49.5)),
    legend2=dict(legend_common, x=fx(304), y=fy(773)),
    legend3=dict(legend_common, x=fx(755), y=fy(538), itemwidth=35),
    annotations=annotations, shapes=shapes,
)

fig.write_html("out.html")
